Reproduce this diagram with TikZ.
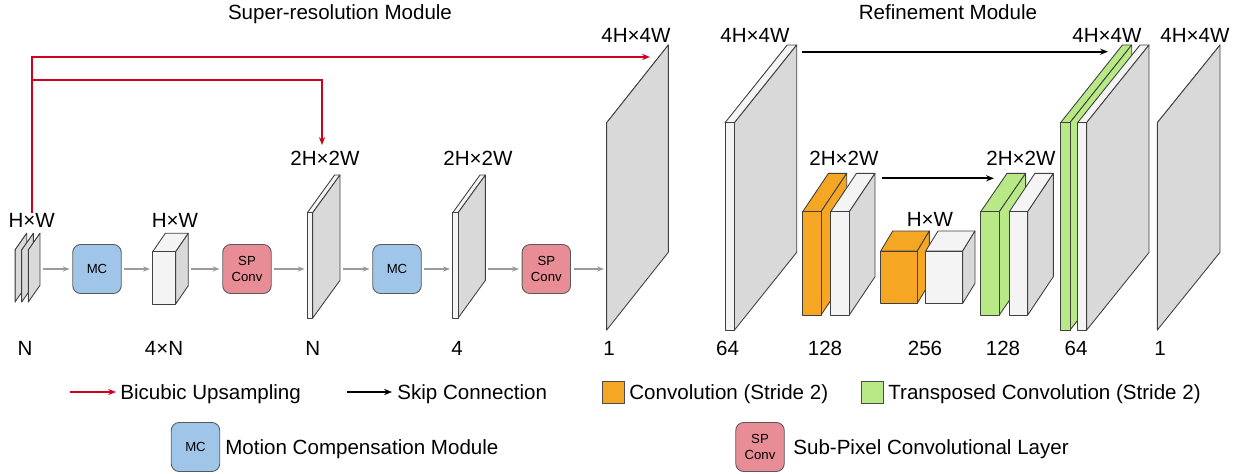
\documentclass[tikz,border=0pt]{standalone}
\usepackage{fontspec}
\setmainfont{Liberation Sans}
\usetikzlibrary{positioning, arrows.meta, calc}
\definecolor{mcblue}{HTML}{9FC5E8}
\definecolor{sppink}{HTML}{E88D96}
\definecolor{convorange}{HTML}{F5A623}
\definecolor{tconvgreen}{HTML}{B8E986}
\definecolor{facegray}{HTML}{F4F4F4}
\definecolor{sidegray}{HTML}{D9D9D9}
\definecolor{upred}{HTML}{D0021B}
\definecolor{flowgray}{HTML}{9B9B9B}

% #1 name, #2 x, #3 y, #4 width, #5 height, #6 dx, #7 dy, #8 front/top, #9 side
\newcommand{\convblock}[9]{%
  \filldraw[layer, fill=#8] (#2,#3) -- ++(#6,-#7) -- ++(#4,0) -- ++(-#6,#7) -- cycle;
  \filldraw[layer, fill=#9] ({#2+#4},#3) -- ++(#6,-#7) -- ++(0,#5) -- ++(-#6,#7) -- cycle;
  \filldraw[layer, fill=#8] (#2,#3) rectangle ++(#4,#5);
  \coordinate (#1-w) at (#2,{#3+#5/2});
  \coordinate (#1-e) at ({#2+#4+#6},{#3+#5/2});
}

\begin{document}
\begin{tikzpicture}[x=0.02cm, y=-0.02cm,
        every node/.style={font=\fontsize{11.7}{14}\selectfont, inner sep=0pt},
        lbl/.style={anchor=base},
        key/.style={anchor=base west},
        layer/.style={draw=black!75, line width=0.5pt, line join=round},
        module/.style={draw=black!65, line width=0.5pt, rounded corners=4.5pt,
                       minimum width=0.97cm, minimum height=0.98cm, align=center,
                       font=\fontsize{7.5}{9.5}\selectfont},
        mc/.style={module, fill=mcblue},
        spconv/.style={module, fill=sppink},
        swatch/.style={draw=black!70, line width=0.5pt, minimum size=0.44cm},
        flow/.style={draw=flowgray, line width=0.9pt, -{Stealth[length=4pt,width=3pt]},
                     shorten <=1.5pt, shorten >=1.5pt},
        bicubic/.style={draw=upred, line width=1.1pt, -{Stealth[length=4.5pt,width=3.5pt]}},
        skip/.style={draw=black, line width=1.1pt, -{Stealth[length=4.5pt,width=3.5pt]}},
      ]
      \useasboundingbox (0,0) rectangle (1243,473);

      \node[lbl] (t-sr) at (340,19.4) {Super-resolution Module};
      \node[lbl] (t-ref) at (948,19.4) {Refinement Module};

      % super-resolution module
      \convblock{in1}{15}{250}{0}{52}{11.7}{16.7}{facegray}{sidegray}
      \convblock{in2}{21.7}{250}{0}{52}{11.7}{16.7}{facegray}{sidegray}
      \convblock{in3}{28.3}{250}{0}{52}{11.7}{16.7}{facegray}{sidegray}
      \node[mc] (mc1) at (97,269) {MC};
      \convblock{feat}{152.7}{251.7}{23}{52.3}{12.6}{18.4}{facegray}{sidegray}
      \node[spconv] (sp1) at (247,269) {SP\\Conv};
      \convblock{upa}{307.3}{212.7}{5.4}{105.3}{27.3}{37.7}{facegray}{sidegray}
      \node[mc] (mc2) at (397,269) {MC};
      \convblock{upb}{452.7}{212.7}{5.4}{105.3}{27.3}{37.7}{facegray}{sidegray}
      \node[spconv] (sp2) at (546.3,269) {SP\\Conv};
      \convblock{sr}{606.7}{122.7}{0}{207.3}{61.6}{77.7}{facegray}{sidegray}

      \draw[flow] (in3-e |- mc1.west) -- (mc1.west);
      \draw[flow] (mc1.east) -- (feat-w |- mc1.east);
      \draw[flow] (feat-e |- sp1.west) -- (sp1.west);
      \draw[flow] (sp1.east) -- (upa-w |- sp1.east);
      \draw[flow] (upa-e |- mc2.west) -- (mc2.west);
      \draw[flow] (mc2.east) -- (upb-w |- mc2.east);
      \draw[flow] (upb-e |- sp2.west) -- (sp2.west);
      \draw[flow] (sp2.east) -- (sr-w |- sp2.east);

      \node[lbl] (d-in) at (31.7,227.4) {H×W};
      \node[lbl] (d-feat) at (175,227.4) {H×W};
      \node[lbl] (d-upa) at (325,165.4) {2H×2W};
      \node[lbl] (d-upb) at (478,165.4) {2H×2W};
      \node[lbl] (d-sr) at (636,42.4) {4H×4W};

      \coordinate (up-sr) at (650,57);
      \coordinate (up-2x) at (322,145);
      \draw[bicubic] (d-in.north) |- (up-sr);
      \draw[bicubic] (d-in.north |- 0,80) -| (up-2x);

      % refinement module
      \convblock{enc}{725}{122.7}{9.5}{207.3}{62.2}{77.7}{facegray}{sidegray}
      \convblock{down1}{802.7}{211.7}{18.3}{103.3}{25.7}{38.3}{convorange}{convorange}
      \convblock{enc2}{830.7}{211.7}{18.6}{103.3}{25.7}{38.3}{facegray}{sidegray}
      \convblock{down2}{880.7}{251}{36.6}{52.3}{12}{20}{convorange}{convorange}
      \convblock{enc3}{925.7}{251}{37}{52.3}{12.3}{20}{facegray}{sidegray}
      \convblock{tup1}{980.7}{211.7}{18.6}{103.3}{26.3}{38.3}{tconvgreen}{tconvgreen}
      \convblock{dec1}{1009.3}{211.7}{18.4}{103.3}{25.6}{38.3}{facegray}{sidegray}
      \convblock{tup2}{1060.7}{122.5}{9.3}{207.5}{61.7}{77.5}{tconvgreen}{tconvgreen}
      \convblock{dec2}{1077.7}{122.5}{9}{207.5}{62.3}{77.5}{facegray}{sidegray}
      \convblock{out}{1157.3}{122.7}{0}{207.3}{62.7}{77.7}{facegray}{sidegray}

      \coordinate (skip1a) at (802,51.7);
      \coordinate (skip1b) at (1108,51.7);
      \coordinate (skip2a) at (882,178.3);
      \coordinate (skip2b) at (994,178.3);
      \draw[skip] (skip1a) -- (skip1b);
      \draw[skip] (skip2a) -- (skip2b);

      \node[lbl] (d-enc) at (755,42.4) {4H×4W};
      \node[lbl] (d-enc2) at (844,165.4) {2H×2W};
      \node[lbl] (d-enc3) at (930,226.7) {H×W};
      \node[lbl] (d-dec1) at (1021,165.4) {2H×2W};
      \node[lbl] (d-dec2) at (1107,42.4) {4H×4W};
      \node[lbl] (d-out) at (1195,42.4) {4H×4W};

      % channels
      \node[lbl] (c-in) at (25,355.4) {N};
      \node[lbl] (c-feat) at (164,355.4) {4×N};
      \node[lbl] (c-upa) at (312.7,355.4) {N};
      \node[lbl] (c-upb) at (457,355.4) {4};
      \node[lbl] (c-sr) at (609,355.4) {1};
      \node[lbl] (c-enc) at (727.5,355.4) {64};
      \node[lbl] (c-enc2) at (825,355.4) {128};
      \node[lbl] (c-enc3) at (925,355.4) {256};
      \node[lbl] (c-dec1) at (1003,355.4) {128};
      \node[lbl] (c-dec2) at (1076,355.4) {64};
      \node[lbl] (c-out) at (1160,355.4) {1};

      % legend
      \coordinate (k-up-a) at (70,392);
      \coordinate (k-up-b) at (116,392);
      \draw[bicubic] (k-up-a) -- (k-up-b);
      \node[key] (k-up) at (120,399.4) {Bicubic Upsampling};
      \coordinate (k-skip-a) at (347,392);
      \coordinate (k-skip-b) at (392,392);
      \draw[skip] (k-skip-a) -- (k-skip-b);
      \node[key] (k-skip) at (397,399.4) {Skip Connection};
      \node[swatch, fill=convorange] (k-conv-box) at (613,392) {};
      \node[key] (k-conv) at (629,399.4) {Convolution (Stride 2)};
      \node[swatch, fill=tconvgreen] (k-tconv-box) at (872,392) {};
      \node[key] (k-tconv) at (888,399.4) {Transposed Convolution (Stride 2)};
      \node[mc] (k-mc-box) at (195.5,447) {MC};
      \node[key] (k-mc) at (225,454.4) {Motion Compensation Module};
      \node[spconv] (k-sp-box) at (760,447) {SP\\Conv};
      \node[key] (k-sp) at (793,454.4) {Sub-Pixel Convolutional Layer};
    \end{tikzpicture}
\end{document}
